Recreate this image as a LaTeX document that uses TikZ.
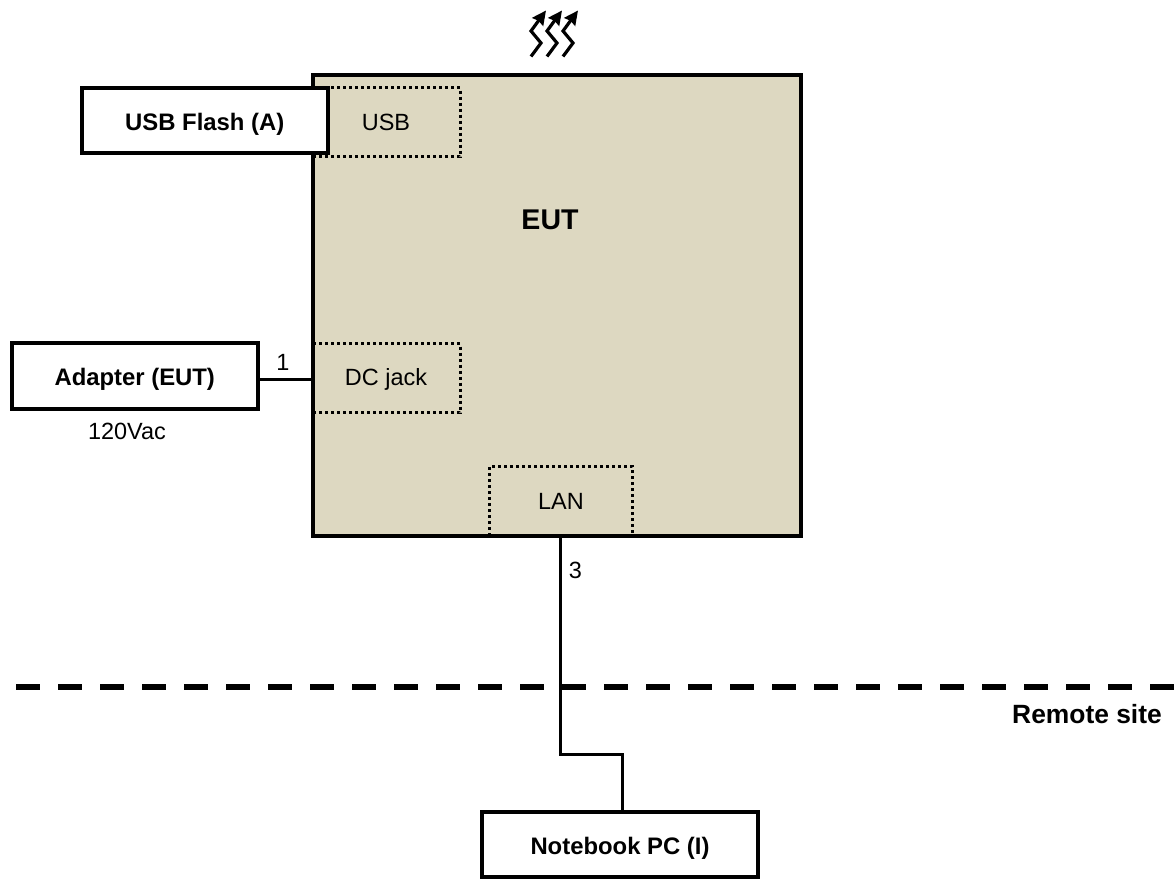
\documentclass[tikz,border=0pt]{standalone}
\usepackage{fontspec}
\setmainfont{Liberation Sans}
\usetikzlibrary{arrows.meta}
\definecolor{eutcol}{RGB}{221,216,193}

\begin{document}
\begin{tikzpicture}[
  x=0.75pt, y=-0.75pt,
  every node/.style={font=\fontsize{17.6}{20}\selectfont, inner sep=0pt, outer sep=0pt},
  %% main equipment box
  eutbox/.style={draw=black, fill=eutcol, line width=3pt},
  %% white peripheral box
  devbox/.style={draw=black, fill=white, line width=3pt,
    text height=18pt, text depth=2.4pt,
    font=\fontsize{17.9}{20}\selectfont\bfseries},
  %% port area, only holds the label
  port/.style={draw=none},
  %% dotted outline of a port
  portline/.style={draw=black, line width=2.25pt, dash pattern=on 2.25pt off 2.25pt},
  %% cables
  cable/.style={draw=black, line width=2.25pt},
  %% site boundary
  border/.style={draw=black, line width=4.5pt, dash pattern=on 18pt off 13.5pt},
  %% heat arrows
  heat/.style={draw=black, line width=2.4pt, line join=miter,
    -{Stealth[length=10.5pt,width=10pt,inset=1pt]}},
]
\useasboundingbox (0,0) rectangle (1174,878);

%% equipment under test
\node[eutbox, minimum width=366pt, minimum height=345.75pt] (eut) at (556.75,305.5) {};
\node[font=\fontsize{21.4}{24}\selectfont\bfseries] (euttxt) at (550,220) {EUT};

%% ports
\node[port, minimum width=110.25pt, minimum height=51.75pt] (usb) at (386.5,122) {};
\node (usbtxt) at (386,122) {USB};
\node[port, minimum width=110.25pt, minimum height=51.75pt] (dc) at (386.5,378) {};
\node (dctxt) at (386,379) {DC jack};
\node[port, minimum width=107pt, minimum height=52pt] (lan) at (560.7,501) {};
\node (lantxt) at (561,501) {LAN};

\draw[portline] (usb.north west) -- (usb.north east) -- (usb.south east) -- (usb.south west);
\draw[portline] (dc.north west) -- (dc.north east) -- (dc.south east) -- (dc.south west);
\draw[portline] (lan.south west) -- (lan.north west) -- (lan.north east) -- (lan.south east);

%% peripherals
\node[devbox, minimum width=184.5pt, minimum height=48.75pt] (flash) at (204.75,120.5) {USB Flash (A)};
\node[devbox, minimum width=184.5pt, minimum height=49.5pt] (adapter) at (134.75,375.5) {Adapter (EUT)};
\node (vac) at (127,431.5) {120Vac};
\node[devbox, minimum width=207pt, minimum height=48.75pt] (pc) at (620,844.5) {Notebook PC (I)};

%% cables
\coordinate (bend1) at (560,754);
\coordinate (bend2) at (622,754);
\draw[cable] (adapter.east |- 0,379) -- (eut.west |- 0,379);
\draw[cable] (eut.south -| bend1) -- (bend1) -- (bend2) -- (pc.north -| bend2);
\node (c1) at (283,362) {1};
\node (c3) at (575.5,570) {3};

%% remote site boundary
\coordinate (bl) at (16,687);
\coordinate (br) at (1174,687);
\draw[border] (bl) -- (br);
\node[font=\fontsize{19.8}{22}\selectfont\bfseries] (remote) at (1087,714) {Remote site};

%% heat
\foreach \i in {0,16,32}
  \draw[heat] (531+\i,56.5) -- (541+\i,43) -- (531+\i,31) -- (546+\i,10.5);

\end{tikzpicture}
\end{document}
